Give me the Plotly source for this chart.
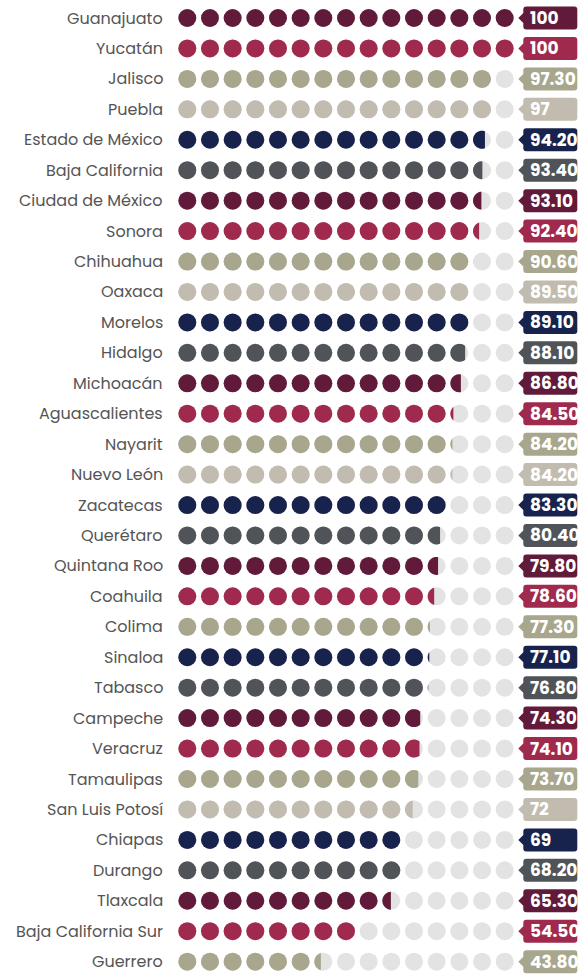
import numpy as np
import plotly.graph_objects as go

# ---------------- data ----------------
states = ["Guanajuato", "Yucatán", "Jalisco", "Puebla", "Estado de México",
          "Baja California", "Ciudad de México", "Sonora", "Chihuahua", "Oaxaca",
          "Morelos", "Hidalgo", "Michoacán", "Aguascalientes", "Nayarit",
          "Nuevo León", "Zacatecas", "Querétaro", "Quintana Roo", "Coahuila",
          "Colima", "Sinaloa", "Tabasco", "Campeche", "Veracruz", "Tamaulipas",
          "San Luis Potosí", "Chiapas", "Durango", "Tlaxcala",
          "Baja California Sur", "Guerrero"]
values = [100, 100, 97.3, 97, 94.2, 93.4, 93.1, 92.4, 90.6, 89.5, 89.1, 88.1,
          86.8, 84.5, 84.2, 84.2, 83.3, 80.4, 79.8, 78.6, 77.3, 77.1, 76.8,
          74.3, 74.1, 73.7, 72, 69, 68.2, 65.3, 54.5, 43.8]
value_labels = ["100", "100", "97.30", "97", "94.20", "93.40", "93.10", "92.40",
                "90.60", "89.50", "89.10", "88.10", "86.80", "84.50", "84.20",
                "84.20", "83.30", "80.40", "79.80", "78.60", "77.30", "77.10",
                "76.80", "74.30", "74.10", "73.70", "72", "69", "68.20", "65.30",
                "54.50", "43.80"]
palette = ["#611A3A", "#9F2A4D", "#A8A68C", "#C1BCAF", "#18234D", "#505458"]
color_index = [0, 1, 2, 3, 4, 5, 0, 1, 2, 3, 4, 5, 0, 1, 2, 3, 4, 5, 0, 1,
               2, 4, 5, 0, 1, 2, 3, 4, 5, 0, 1, 2]
EMPTY = "#E3E3E3"

# ---------------- geometry ----------------
W, H = 578, 975
N_DOTS = 15
SX = 22.67          # px per dot step
SY = 30.44          # px per row
X0 = 187.3          # px of first dot centre
Y0 = 18.0           # px of first row centre
DOT = 18            # dot diameter px
R_U = (DOT / 2) / SX  # radius in dot units
SPAN = 14.36        # dot units covered by a value of 100
BOX_X = (523.3 - X0) / SX

n = len(states)
rows = np.arange(n)
colors = [palette[c] for c in color_index]

fig = go.Figure()

# background (empty) dots
bx, by = [], []
for r in rows:
    for i in range(N_DOTS):
        bx.append(i); by.append(r)
fig.add_trace(go.Scatter(x=bx, y=by, mode="markers", hoverinfo="skip",
                         marker=dict(size=DOT, color=EMPTY, line=dict(width=0)),
                         showlegend=False))

# full and partial dots
fx, fy, fc = [], [], []
shapes = []
vmax = max(values)
for r, v in enumerate(values):
    clip = -R_U + v / 100.0 * SPAN
    for i in range(N_DOTS):
        if v >= vmax:
            f = 1.0
        else:
            f = (clip - (i - R_U)) / (2 * R_U)
            f = min(max(f, 0.0), 1.0)
        if f >= 0.999:
            fx.append(i); fy.append(r); fc.append(colors[r])
        elif f > 0.01:
            rad = DOT / 2
            xc = -rad + 2 * rad * f
            tc = np.arccos(np.clip(xc / rad, -1, 1))
            th = np.linspace(tc, 2 * np.pi - tc, 40)
            pts = [f"{rad*np.cos(t):.2f},{rad*np.sin(t):.2f}" for t in th]
            path = "M " + " L ".join(pts) + " Z"
            shapes.append(dict(type="path", xref="x", yref="y",
                               xsizemode="pixel", ysizemode="pixel",
                               xanchor=i, yanchor=r, path=path,
                               fillcolor=colors[r], line=dict(width=0),
                               layer="above"))
fig.add_trace(go.Scatter(x=fx, y=fy, mode="markers", hoverinfo="skip",
                         marker=dict(size=DOT, color=fc, line=dict(width=0)),
                         showlegend=False))

# value tag boxes
bw, bh, rr, pw, ph = 54, 11.5, 3, 5, 5
tag = (f"M 0,{ph} L {-pw},0 L 0,{-ph} L 0,{-bh+rr} Q 0,{-bh} {rr},{-bh} "
       f"L {bw-rr},{-bh} Q {bw},{-bh} {bw},{-bh+rr} L {bw},{bh-rr} "
       f"Q {bw},{bh} {bw-rr},{bh} L {rr},{bh} Q 0,{bh} 0,{bh-rr} Z")
annotations = []
for r in rows:
    shapes.append(dict(type="path", xref="x", yref="y", xsizemode="pixel",
                       ysizemode="pixel", xanchor=BOX_X, yanchor=r, path=tag,
                       fillcolor=colors[r], line=dict(width=0), layer="above"))
    annotations.append(dict(x=BOX_X, y=r, xref="x", yref="y", text=value_labels[r],
                            showarrow=False, xanchor="left", yanchor="middle",
                            xshift=5, font=dict(family="Poppins, Open Sans", size=17,
                                                color="white", weight="bold")))
    annotations.append(dict(x=-1, y=r, xref="x", yref="y", text=states[r],
                            showarrow=False, xanchor="right", yanchor="middle",
                            font=dict(family="Poppins, Open Sans", size=16,
                                      color="#555555")))

fig.update_layout(
    width=W, height=H, margin=dict(l=0, r=0, t=0, b=0),
    paper_bgcolor="white", plot_bgcolor="white",
    xaxis=dict(range=[-X0 / SX, (W - X0) / SX], visible=False, fixedrange=True),
    yaxis=dict(range=[(n - 1) + (H - Y0 - (n - 1) * SY) / SY, -Y0 / SY],
               visible=False, fixedrange=True),
    shapes=shapes, annotations=annotations,
)

fig.write_html(
    "out.html",
    config={"displayModeBar": False},
    post_script=("document.body.style.margin='0';"
                 "document.body.style.overflow='hidden';"
                 "document.documentElement.style.overflow='hidden';"),
)
